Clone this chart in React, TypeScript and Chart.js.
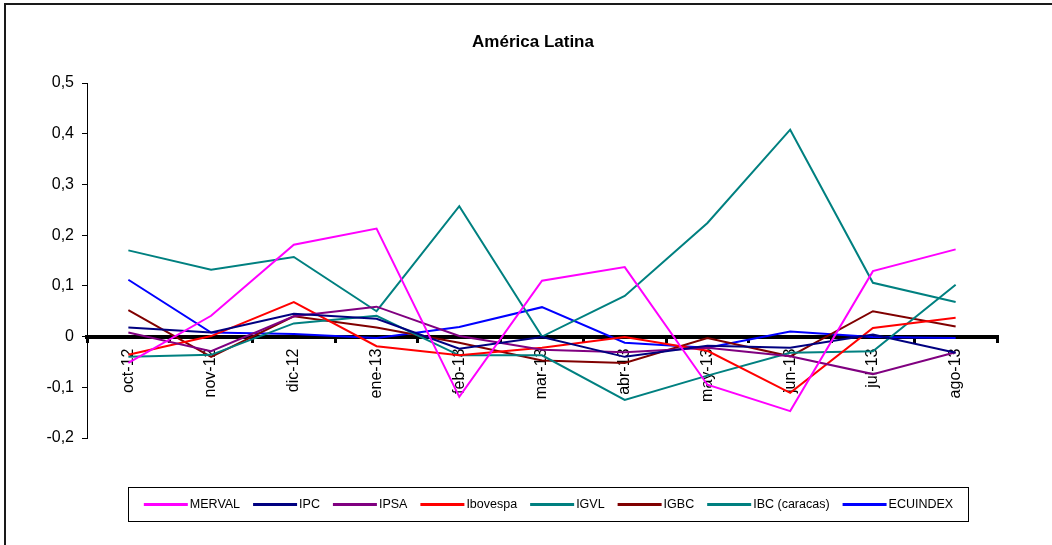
import React, { useEffect, useRef } from "react";
import { Chart, registerables } from "chart.js";

Chart.register(...registerables);

const categories = ["oct-12", "nov-12", "dic-12", "ene-13", "feb-13", "mar-13", "abr-13", "may-13", "jun-13", "jul-13", "ago-13"];

const merval = [-0.052, 0.041, 0.181, 0.213, -0.119, 0.110, 0.137, -0.095, -0.147, 0.129, 0.172];
const ipc = [0.018, 0.008, 0.045, 0.035, -0.024, -0.001, -0.040, -0.018, -0.022, 0.004, -0.032];
const ipsa = [0.008, -0.029, 0.040, 0.059, 0.001, -0.026, -0.031, -0.022, -0.039, -0.074, -0.031];
const ibovespa = [-0.036, 0.001, 0.068, -0.019, -0.037, -0.022, -0.001, -0.028, -0.111, 0.017, 0.037];
const igvl = [-0.040, -0.036, 0.026, 0.041, -0.037, -0.037, -0.125, -0.077, -0.032, -0.029, 0.102];
const igbc = [0.052, -0.040, 0.040, 0.018, -0.012, -0.047, -0.052, -0.003, -0.039, 0.050, 0.020];
const ibcCaracas = [0.170, 0.132, 0.157, 0.050, 0.257, 0.000, 0.080, 0.224, 0.408, 0.106, 0.068];
const ecuindex = [0.112, 0.008, 0.005, -0.003, 0.019, 0.058, -0.012, -0.022, 0.010, -0.001, -0.003];

const seriesNames = ["MERVAL", "IPC", "IPSA", "Ibovespa", "IGVL", "IGBC", "IBC (caracas)", "ECUINDEX"];
const seriesColors = ["#FF00FF", "#000080", "#800080", "#FF0000", "#008080", "#800000", "#008080", "#0000FF"];
const seriesValues = [merval, ipc, ipsa, ibovespa, igvl, igbc, ibcCaracas, ecuindex];

const yMin = -0.2;
const yMax = 0.5;
const yStep = 0.1;

const titleText = "América Latina";
const FONT = "'Liberation Sans', Arial, Helvetica, sans-serif";

const decorPlugin = {
  id: "decor",
  beforeDraw(chart: any) {
    const ctx = chart.ctx;
    ctx.save();
    ctx.fillStyle = "#ffffff";
    ctx.fillRect(0, 0, chart.width, chart.height);
    ctx.strokeStyle = "#1a1a1a";
    ctx.lineWidth = 2;
    ctx.beginPath();
    ctx.moveTo(5, chart.height + 2);
    ctx.lineTo(5, 4);
    ctx.lineTo(chart.width + 2, 4);
    ctx.stroke();
    ctx.restore();
  },
  afterDraw(chart: any) {
    const ctx = chart.ctx;
    ctx.save();
    ctx.fillStyle = "#000";
    ctx.font = `bold 17px ${FONT}`;
    ctx.textAlign = "center";
    ctx.textBaseline = "alphabetic";
    ctx.fillText(titleText, 533, 47);

    const boxL = 128.5, boxT = 487.5, boxW = 840, boxH = 34;
    ctx.strokeStyle = "#000";
    ctx.lineWidth = 1;
    ctx.strokeRect(boxL, boxT, boxW, boxH);
    ctx.font = `12.5px ${FONT}`;
    ctx.textAlign = "left";
    ctx.textBaseline = "middle";
    const sample = 44;
    const gapText = 2;
    const gapItem = 13;
    const ds = chart.data.datasets;
    const widths = ds.map((d: any) => ctx.measureText(d.label).width);
    let total = 0;
    widths.forEach((w: number, i: number) => {
      total += sample + gapText + w + (i < widths.length - 1 ? gapItem : 0);
    });
    let x = boxL + (boxW - total) / 2;
    const cy = boxT + boxH / 2;
    ds.forEach((d: any, i: number) => {
      ctx.strokeStyle = d.borderColor;
      ctx.lineWidth = 3;
      ctx.beginPath();
      ctx.moveTo(x, cy);
      ctx.lineTo(x + sample, cy);
      ctx.stroke();
      ctx.fillStyle = "#000";
      ctx.fillText(d.label, x + sample + gapText, cy + 0.5);
      x += sample + gapText + widths[i] + gapItem;
    });
    ctx.restore();
  },
};

export default function App() {
  const canvasRef = useRef<HTMLCanvasElement | null>(null);

  useEffect(() => {
    const canvas = canvasRef.current;
    if (!canvas) return;
    const chart = new Chart(canvas, {
      type: "line",
      data: {
        labels: categories,
        datasets: seriesNames.map((name, i) => ({
          label: name,
          data: seriesValues[i],
          borderColor: seriesColors[i],
          backgroundColor: seriesColors[i],
          borderWidth: 2,
          pointRadius: 0,
          pointHoverRadius: 0,
          tension: 0,
          fill: false,
        })),
      },
      options: {
        animation: false,
        responsive: false,
        maintainAspectRatio: false,
        devicePixelRatio: 1,
        events: [],
        layout: { padding: { left: 0, top: 83, right: 55, bottom: 107 } },
        plugins: {
          legend: { display: false },
          title: { display: false },
          tooltip: { enabled: false },
        },
        scales: {
          y: {
            min: yMin,
            max: yMax,
            afterFit: (s: any) => {
              s.width = 87;
            },
            ticks: {
              stepSize: yStep,
              color: "#000",
              padding: 8,
              font: { family: FONT, size: 16 },
              callback: (v: any) => {
                const n = Number(v);
                if (Math.abs(n) < 1e-9) return "0";
                return n.toFixed(1).replace(".", ",");
              },
            },
            grid: {
              drawOnChartArea: false,
              drawTicks: true,
              tickLength: 5,
              color: "#000",
              lineWidth: 1,
            },
            border: { display: true, color: "#000", width: 1 },
          },
          x: {
            position: { y: 0 } as any,
            offset: true,
            ticks: {
              color: "#000",
              autoSkip: false,
              minRotation: 90,
              maxRotation: 90,
              padding: 8,
              font: { family: FONT, size: 16 },
            },
            grid: {
              offset: true,
              drawOnChartArea: false,
              drawTicks: true,
              tickLength: 4,
              color: "#000",
              lineWidth: 3,
            },
            border: { display: true, color: "#000", width: 4 },
          },
        },
      },
      plugins: [decorPlugin],
    });
    return () => chart.destroy();
  }, []);

  return (
    <div style={{ position: "fixed", left: 0, top: 0, width: 1052, height: 545, background: "#fff" }}>
      <canvas ref={canvasRef} width={1052} height={545} style={{ display: "block", width: 1052, height: 545 }} />
    </div>
  );
}
